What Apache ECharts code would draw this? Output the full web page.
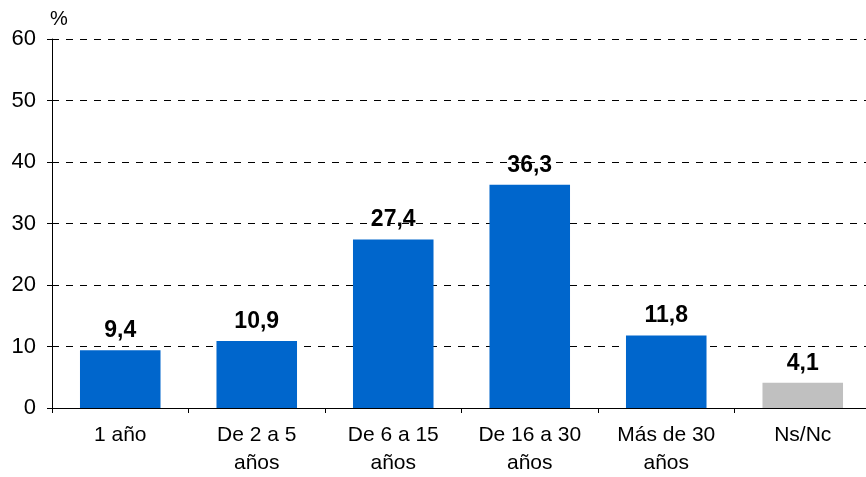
<!DOCTYPE html>
<html>
<head>
<meta charset="utf-8">
<script src="https://cdn.jsdelivr.net/npm/echarts@6/dist/echarts.min.js"></script>
<style>
html,body{margin:0;padding:0;background:#fff;overflow:hidden;}
#chart{width:874px;height:477px;}
</style>
</head>
<body>
<div id="chart"></div>
<script>
var categories = ['1 año', 'De 2 a 5\naños', 'De 6 a 15\naños', 'De 16 a 30\naños', 'Más de 30\naños', 'Ns/Nc'];
var values = [9.4, 10.9, 27.4, 36.3, 11.8, 4.1];
var barColors = ['#0066CC', '#0066CC', '#0066CC', '#0066CC', '#0066CC', '#C0C0C0'];

var seriesData = [];
for (var i in values) {
	seriesData.push({
		value: values[i],
		itemStyle: { color: barColors[i] }
	});
}

// the plot runs a few px past the right edge of the window, as in the original
var chart = echarts.init(document.getElementById('chart'));
var options = {
	animation: false,
	grid: { left: 52, right: 3, top: 39, bottom: 68 },
	xAxis: {
		type: 'category',
		data: categories,
		axisLine: { lineStyle: { color: '#000', width: 1 } },
		axisTick: { show: true, length: 5, lineStyle: { color: '#000' } },
		axisLabel: {
			color: '#000',
			fontFamily: 'Liberation Sans, Arial',
			fontSize: 21,
			lineHeight: 28,
			margin: 13,
			interval: 0
		}
	},
	yAxis: {
		type: 'value',
		min: 0,
		max: 60,
		interval: 10,
		name: '%',
		nameGap: 10,
		nameTextStyle: {
			color: '#000',
			fontFamily: 'Liberation Sans, Arial',
			fontSize: 20,
			align: 'left',
			padding: [0, 0, 0, -2]
		},
		axisLine: { show: true, lineStyle: { color: '#000', width: 1 } },
		axisTick: { show: true, length: 5, lineStyle: { color: '#000' } },
		axisLabel: {
			color: '#000',
			fontFamily: 'Liberation Sans, Arial',
			fontSize: 22,
			margin: 16
		},
		splitLine: { lineStyle: { color: '#000', type: [7, 7], width: 1 } }
	},
	series: [{
		type: 'bar',
		data: seriesData,
		barCategoryGap: '41%',
		label: {
			show: true,
			position: 'top',
			distance: 8,
			color: '#000',
			fontFamily: 'Liberation Sans, Arial',
			fontSize: 23,
			fontWeight: 'bold',
			formatter: function (p) { return String(p.value).replace('.', ','); }
		}
	}]
};
chart.setOption(options);
</script>
</body>
</html>
